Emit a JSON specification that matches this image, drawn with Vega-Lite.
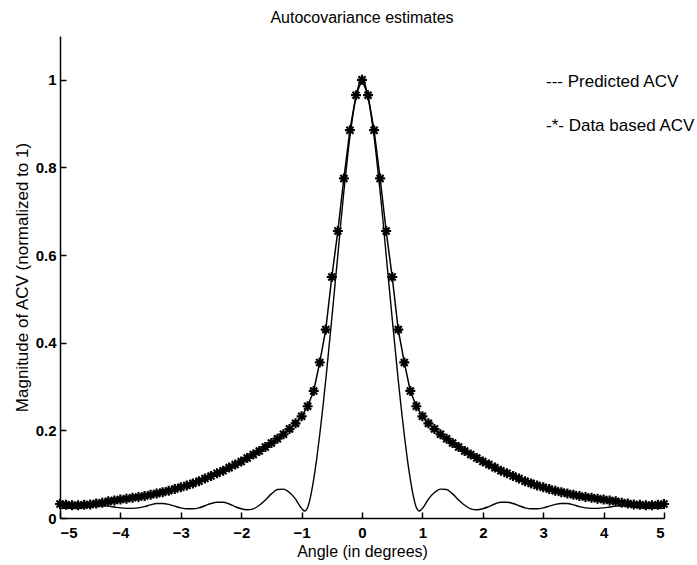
{
  "$schema": "https://vega.github.io/schema/vega-lite/v6.json",
  "autosize": {"type": "none"},
  "padding": {"left": 60, "top": 36, "right": 33, "bottom": 47},
  "width": 604,
  "height": 482,
  "background": "white",
  "config": {
    "view": {"stroke": null},
    "font": "Liberation Sans",
    "axis": {"grid": false, "domainColor": "black", "tickColor": "black", "labelColor": "black", "titleColor": "black", "domainWidth": 1.5, "tickWidth": 1.5}
  },
  "title": {"text": "Autocovariance estimates", "fontSize": 16, "fontWeight": "normal", "color": "black", "offset": 10, "anchor": "middle", "font": "Liberation Sans"},
  "datasets": {
    "pred": [
      {"x": -5.0, "y": 0.022}, {"x": -4.9, "y": 0.022}, {"x": -4.8, "y": 0.022}, {"x": -4.7, "y": 0.022}, {"x": -4.6, "y": 0.023},
      {"x": -4.5, "y": 0.025}, {"x": -4.4, "y": 0.027}, {"x": -4.3, "y": 0.028}, {"x": -4.2, "y": 0.027}, {"x": -4.1, "y": 0.025},
      {"x": -4.0, "y": 0.023}, {"x": -3.9, "y": 0.022}, {"x": -3.8, "y": 0.022}, {"x": -3.7, "y": 0.023}, {"x": -3.6, "y": 0.026},
      {"x": -3.5, "y": 0.030}, {"x": -3.4, "y": 0.033}, {"x": -3.3, "y": 0.033}, {"x": -3.2, "y": 0.031}, {"x": -3.1, "y": 0.027},
      {"x": -3.0, "y": 0.023}, {"x": -2.9, "y": 0.021}, {"x": -2.8, "y": 0.021}, {"x": -2.7, "y": 0.023}, {"x": -2.6, "y": 0.028},
      {"x": -2.5, "y": 0.033}, {"x": -2.4, "y": 0.036}, {"x": -2.3, "y": 0.036}, {"x": -2.2, "y": 0.032}, {"x": -2.1, "y": 0.026},
      {"x": -2.0, "y": 0.021}, {"x": -1.9, "y": 0.019}, {"x": -1.8, "y": 0.021}, {"x": -1.7, "y": 0.029}, {"x": -1.6, "y": 0.041},
      {"x": -1.5, "y": 0.055}, {"x": -1.4, "y": 0.065}, {"x": -1.3, "y": 0.066}, {"x": -1.2, "y": 0.058}, {"x": -1.1, "y": 0.043},
      {"x": -1.05, "y": 0.032}, {"x": -1.0, "y": 0.022}, {"x": -0.95, "y": 0.016}, {"x": -0.9, "y": 0.024}, {"x": -0.85, "y": 0.05},
      {"x": -0.8, "y": 0.088}, {"x": -0.75, "y": 0.135}, {"x": -0.7, "y": 0.19}, {"x": -0.65, "y": 0.25}, {"x": -0.6, "y": 0.315},
      {"x": -0.55, "y": 0.385}, {"x": -0.5, "y": 0.455}, {"x": -0.45, "y": 0.528}, {"x": -0.4, "y": 0.6}, {"x": -0.35, "y": 0.675},
      {"x": -0.3, "y": 0.745}, {"x": -0.25, "y": 0.81}, {"x": -0.2, "y": 0.87}, {"x": -0.15, "y": 0.92}, {"x": -0.1, "y": 0.96},
      {"x": -0.05, "y": 0.99}, {"x": 0.0, "y": 1.0},
      {"x": 0.05, "y": 0.99}, {"x": 0.1, "y": 0.96}, {"x": 0.15, "y": 0.92}, {"x": 0.2, "y": 0.87}, {"x": 0.25, "y": 0.81},
      {"x": 0.3, "y": 0.745}, {"x": 0.35, "y": 0.675}, {"x": 0.4, "y": 0.6}, {"x": 0.45, "y": 0.528}, {"x": 0.5, "y": 0.455},
      {"x": 0.55, "y": 0.385}, {"x": 0.6, "y": 0.315}, {"x": 0.65, "y": 0.25}, {"x": 0.7, "y": 0.19}, {"x": 0.75, "y": 0.135},
      {"x": 0.8, "y": 0.088}, {"x": 0.85, "y": 0.05}, {"x": 0.9, "y": 0.024}, {"x": 0.95, "y": 0.016}, {"x": 1.0, "y": 0.022},
      {"x": 1.05, "y": 0.032}, {"x": 1.1, "y": 0.043}, {"x": 1.2, "y": 0.058}, {"x": 1.3, "y": 0.066}, {"x": 1.4, "y": 0.065},
      {"x": 1.5, "y": 0.055}, {"x": 1.6, "y": 0.041}, {"x": 1.7, "y": 0.029}, {"x": 1.8, "y": 0.021}, {"x": 1.9, "y": 0.019},
      {"x": 2.0, "y": 0.021}, {"x": 2.1, "y": 0.026}, {"x": 2.2, "y": 0.032}, {"x": 2.3, "y": 0.036}, {"x": 2.4, "y": 0.036},
      {"x": 2.5, "y": 0.033}, {"x": 2.6, "y": 0.028}, {"x": 2.7, "y": 0.023}, {"x": 2.8, "y": 0.021}, {"x": 2.9, "y": 0.021},
      {"x": 3.0, "y": 0.023}, {"x": 3.1, "y": 0.027}, {"x": 3.2, "y": 0.031}, {"x": 3.3, "y": 0.033}, {"x": 3.4, "y": 0.033},
      {"x": 3.5, "y": 0.030}, {"x": 3.6, "y": 0.026}, {"x": 3.7, "y": 0.023}, {"x": 3.8, "y": 0.022}, {"x": 3.9, "y": 0.022},
      {"x": 4.0, "y": 0.023}, {"x": 4.1, "y": 0.025}, {"x": 4.2, "y": 0.027}, {"x": 4.3, "y": 0.028}, {"x": 4.4, "y": 0.027},
      {"x": 4.5, "y": 0.025}, {"x": 4.6, "y": 0.023}, {"x": 4.7, "y": 0.022}, {"x": 4.8, "y": 0.022}, {"x": 4.9, "y": 0.022},
      {"x": 5.0, "y": 0.022}
    ],
    "meas": [
      {"x": -5.0, "y": 0.032}, {"x": -4.9, "y": 0.030}, {"x": -4.8, "y": 0.029}, {"x": -4.7, "y": 0.029}, {"x": -4.6, "y": 0.030},
      {"x": -4.5, "y": 0.031}, {"x": -4.4, "y": 0.033}, {"x": -4.3, "y": 0.035}, {"x": -4.2, "y": 0.038}, {"x": -4.1, "y": 0.040},
      {"x": -4.0, "y": 0.042}, {"x": -3.9, "y": 0.044}, {"x": -3.8, "y": 0.046}, {"x": -3.7, "y": 0.048}, {"x": -3.6, "y": 0.050},
      {"x": -3.5, "y": 0.053}, {"x": -3.4, "y": 0.056}, {"x": -3.3, "y": 0.059}, {"x": -3.2, "y": 0.062}, {"x": -3.1, "y": 0.066},
      {"x": -3.0, "y": 0.070}, {"x": -2.9, "y": 0.074}, {"x": -2.8, "y": 0.079}, {"x": -2.7, "y": 0.084}, {"x": -2.6, "y": 0.090},
      {"x": -2.5, "y": 0.096}, {"x": -2.4, "y": 0.102}, {"x": -2.3, "y": 0.108}, {"x": -2.2, "y": 0.115}, {"x": -2.1, "y": 0.122},
      {"x": -2.0, "y": 0.129}, {"x": -1.9, "y": 0.137}, {"x": -1.8, "y": 0.145}, {"x": -1.7, "y": 0.153}, {"x": -1.6, "y": 0.162},
      {"x": -1.5, "y": 0.171}, {"x": -1.4, "y": 0.181}, {"x": -1.3, "y": 0.191}, {"x": -1.2, "y": 0.203}, {"x": -1.1, "y": 0.216},
      {"x": -1.0, "y": 0.232}, {"x": -0.9, "y": 0.255}, {"x": -0.8, "y": 0.290}, {"x": -0.7, "y": 0.355}, {"x": -0.6, "y": 0.430},
      {"x": -0.5, "y": 0.550}, {"x": -0.4, "y": 0.655}, {"x": -0.3, "y": 0.775}, {"x": -0.2, "y": 0.885}, {"x": -0.1, "y": 0.965},
      {"x": 0.0, "y": 1.0},
      {"x": 0.1, "y": 0.965}, {"x": 0.2, "y": 0.885}, {"x": 0.3, "y": 0.775}, {"x": 0.4, "y": 0.655}, {"x": 0.5, "y": 0.550},
      {"x": 0.6, "y": 0.430}, {"x": 0.7, "y": 0.355}, {"x": 0.8, "y": 0.290}, {"x": 0.9, "y": 0.255}, {"x": 1.0, "y": 0.232},
      {"x": 1.1, "y": 0.216}, {"x": 1.2, "y": 0.203}, {"x": 1.3, "y": 0.191}, {"x": 1.4, "y": 0.181}, {"x": 1.5, "y": 0.171},
      {"x": 1.6, "y": 0.162}, {"x": 1.7, "y": 0.153}, {"x": 1.8, "y": 0.145}, {"x": 1.9, "y": 0.137}, {"x": 2.0, "y": 0.129},
      {"x": 2.1, "y": 0.122}, {"x": 2.2, "y": 0.115}, {"x": 2.3, "y": 0.108}, {"x": 2.4, "y": 0.102}, {"x": 2.5, "y": 0.096},
      {"x": 2.6, "y": 0.090}, {"x": 2.7, "y": 0.084}, {"x": 2.8, "y": 0.079}, {"x": 2.9, "y": 0.074}, {"x": 3.0, "y": 0.070},
      {"x": 3.1, "y": 0.066}, {"x": 3.2, "y": 0.062}, {"x": 3.3, "y": 0.059}, {"x": 3.4, "y": 0.056}, {"x": 3.5, "y": 0.053},
      {"x": 3.6, "y": 0.050}, {"x": 3.7, "y": 0.048}, {"x": 3.8, "y": 0.046}, {"x": 3.9, "y": 0.044}, {"x": 4.0, "y": 0.042},
      {"x": 4.1, "y": 0.040}, {"x": 4.2, "y": 0.038}, {"x": 4.3, "y": 0.035}, {"x": 4.4, "y": 0.033}, {"x": 4.5, "y": 0.031},
      {"x": 4.6, "y": 0.030}, {"x": 4.7, "y": 0.029}, {"x": 4.8, "y": 0.029}, {"x": 4.9, "y": 0.030}, {"x": 5.0, "y": 0.032}
    ]
  },
  "encoding": {
    "x": {
      "field": "x", "type": "quantitative",
      "scale": {"domain": [-5, 5], "nice": false, "zero": false},
      "axis": {"values": [-5, -4, -3, -2, -1, 0, 1, 2, 3, 4, 5], "format": "d", "tickSize": -6, "labelPadding": 13, "labelFontSize": 15, "labelFontWeight": "bold", "labelFont": "Liberation Sans", "title": "Angle (in degrees)", "titleFontSize": 16, "titleFontWeight": "normal", "titlePadding": 3, "titleFont": "Liberation Sans"}
    },
    "y": {
      "field": "y", "type": "quantitative",
      "scale": {"domain": [0, 1.1], "nice": false},
      "axis": {"values": [0, 0.2, 0.4, 0.6, 0.8, 1], "format": "~g", "tickSize": -6, "labelPadding": 10, "labelFontSize": 15, "labelFontWeight": "bold", "labelFont": "Liberation Sans", "title": "Magnitude of ACV (normalized to 1)", "titleFontSize": 17, "titleFontWeight": "normal", "titlePadding": 4, "titleFont": "Liberation Sans"}
    }
  },
  "layer": [
    {
      "data": {"name": "pred"},
      "mark": {"type": "line", "strokeWidth": 1.4, "interpolate": "monotone"},
      "encoding": {
        "color": {
          "datum": "--- Predicted ACV",
          "scale": {"domain": ["--- Predicted ACV", "-*- Data based ACV"], "range": ["black", "black"]},
          "legend": {"orient": "none", "legendX": 469, "legendY": 37, "title": null, "symbolSize": 0, "symbolOpacity": 0, "symbolStrokeWidth": 0, "labelFontSize": 17, "labelFont": "Liberation Sans", "labelColor": "black", "rowPadding": 26, "labelOffset": 0, "padding": 0, "labelLimit": 300}
        }
      }
    },
    {
      "data": {"name": "meas"},
      "mark": {"type": "line", "strokeWidth": 1.5},
      "encoding": {
        "color": {"datum": "-*- Data based ACV"}
      }
    },
    {
      "data": {"name": "meas"},
      "mark": {"type": "point", "shape": "M-1,0L1,0M0,-1L0,1M-0.7,-0.7L0.7,0.7M-0.7,0.7L0.7,-0.7", "filled": false, "stroke": "black", "strokeWidth": 2.2, "size": 100, "opacity": 1}
    }
  ]
}
